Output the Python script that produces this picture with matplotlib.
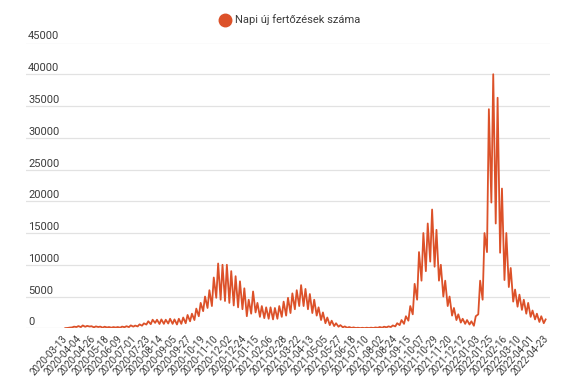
import matplotlib
matplotlib.use('Agg')
import matplotlib.pyplot as plt
import matplotlib.transforms as mtransforms
from matplotlib.lines import Line2D
import pandas as pd

series_name = "Napi új fertőzések száma"

# weekly peak values (Thursdays) and weekly trough values (Mondays)
first_high = '2020-03-12'
weekly_high = [30, 110, 260, 350, 450, 380, 330, 300, 270, 250,
               200, 190, 200, 270, 330, 460, 430, 620, 780, 1110,
               1350, 1350, 1400, 1350, 1500, 1400, 1500, 1700, 2100, 2300,
               3100, 4000, 5000, 6000, 8000, 10200, 10000, 10000, 9000, 8200,
               7400, 6300, 4500, 5800, 4000, 3500, 3300, 3300, 3200, 3500,
               4200, 4800, 5500, 6000, 6800, 6200, 5400, 4500, 3300, 2500,
               1700, 1200, 800, 500, 300, 200, 140, 90, 80, 90,
               100, 130, 200, 250, 300, 450, 800, 1300, 1900, 3500,
               7000, 12000, 15000, 16500, 18700, 15500, 10000, 7500, 5000, 3200,
               2200, 1500, 1300, 1100, 1900, 7500, 15000, 34500, 40000, 36300,
               22000, 15000, 9500, 6100, 5300, 4500, 4000, 2800, 2300, 1900,
               1400]
first_low = '2020-03-16'
weekly_low = [60, 140, 200, 190, 240, 280, 150, 200, 100, 130,
              100, 120, 100, 170, 190, 260, 300, 410, 590, 650,
              850, 680, 700, 750, 700, 600, 700, 800, 1100, 1300,
              1900, 2700, 3200, 3500, 4800, 4500, 4300, 4000, 3600, 3300,
              3000, 1900, 2300, 2500, 1800, 1600, 1500, 1400, 1500, 1800,
              2000, 2400, 3000, 3500, 3500, 3000, 2400, 2000, 1300, 800,
              500, 350, 250, 150, 80, 60, 40, 30, 30, 40,
              50, 80, 100, 150, 200, 300, 500, 700, 1200, 2200,
              4500, 7500, 9000, 10500, 9700, 7500, 5000, 3500, 2000, 1300,
              900, 700, 600, 400, 2200, 4500, 12000, 19800, 16500, 11900,
              7600, 6500, 4200, 3400, 2900, 2300, 1800, 1400, 1000, 800]

tick_labels = ['2020-03-13', '2020-04-04', '2020-04-26', '2020-05-18', '2020-06-09',
               '2020-07-01', '2020-07-23', '2020-08-14', '2020-09-05', '2020-09-27',
               '2020-10-19', '2020-11-10', '2020-12-02', '2020-12-24', '2021-01-15',
               '2021-02-06', '2021-02-28', '2021-03-22', '2021-04-13', '2021-05-05',
               '2021-05-27', '2021-06-18', '2021-07-10', '2021-08-02', '2021-08-24',
               '2021-09-15', '2021-10-07', '2021-10-29', '2021-11-20', '2021-12-12',
               '2022-01-03', '2022-01-25', '2022-02-16', '2022-03-10', '2022-04-01',
               '2022-04-23']
y_ticks = [0, 5000, 10000, 15000, 20000, 25000, 30000, 35000, 40000, 45000]

high_dates = pd.date_range(first_high, periods=len(weekly_high), freq='7D')
low_dates = pd.date_range(first_low, periods=len(weekly_low), freq='7D')
series = pd.concat([pd.Series(weekly_high, index=high_dates),
                    pd.Series(weekly_low, index=low_dates)]).sort_index()

plt.rcParams['font.family'] = ['Roboto', 'DejaVu Sans']
W, H = 575, 387
fig = plt.figure(figsize=(W / 100, H / 100), dpi=100)
left, right, top, bottom = 26, 550, 42.5, 328.3
ax = fig.add_axes([left / W, (H - bottom) / H, (right - left) / W, (bottom - top) / H])

line_color = '#dc5129'
text_color = '#3c3c3c'

for v in y_ticks:
    ax.axhline(v, color='#e2e2e2', lw=0.9, zorder=0)
ax.plot(series.index, series.values, color=line_color, lw=1.3, zorder=3)

t0 = pd.Timestamp(tick_labels[0])
ax.set_xlim(t0 - pd.Timedelta(days=64), t0 + pd.Timedelta(days=776))
ax.set_ylim(0, 45000)
for s in ax.spines.values():
    s.set_visible(False)
ax.set_yticks([])

ax.set_xticks(pd.to_datetime(tick_labels))
ax.set_xticklabels(tick_labels, rotation=48, ha='right', va='center',
                   rotation_mode='anchor', fontsize=7.1, color=text_color)
ax.tick_params(axis='x', length=0, pad=6)

trans = mtransforms.blended_transform_factory(ax.transAxes, ax.transData)
offset = mtransforms.ScaledTranslation(0, 3 / 100, fig.dpi_scale_trans)
for v in y_ticks:
    ax.text(0.004, v, str(v), transform=trans + offset, ha='left', va='baseline',
            fontsize=8, color=text_color)

handle = Line2D([], [], marker='o', color=line_color, linestyle='none', markersize=9)
fig.legend([handle], [series_name], loc='center', bbox_to_anchor=(0.505, 1 - 20 / H),
           frameon=False, handletextpad=0.4, fontsize=8, labelcolor=text_color,
           handlelength=1.0)

fig.savefig('out.png', dpi=100)
